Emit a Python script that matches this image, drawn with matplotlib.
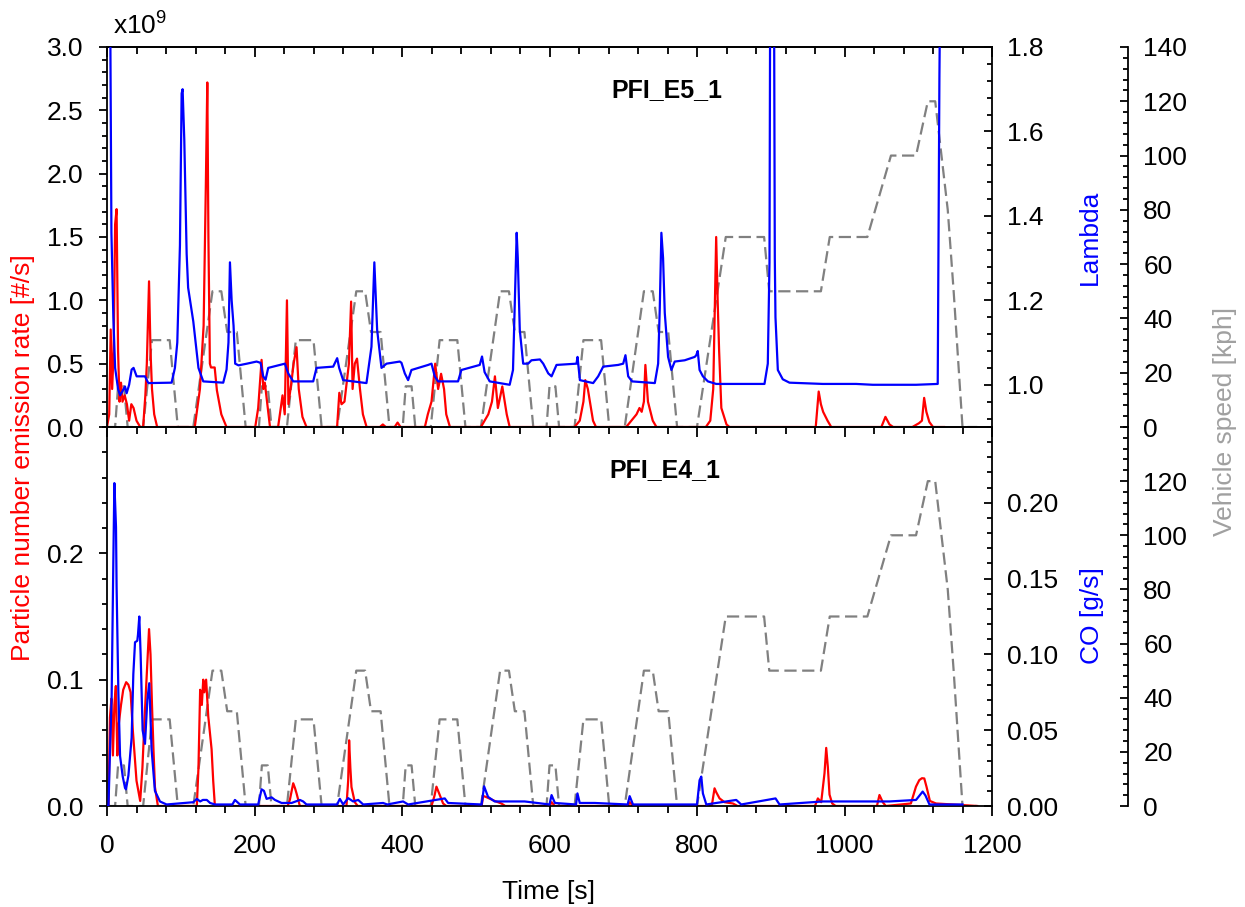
import matplotlib
matplotlib.use("Agg")
import matplotlib.pyplot as plt
from matplotlib.ticker import MultipleLocator

plt.rcParams['font.family'] = ['Liberation Sans', 'DejaVu Sans']
plt.rcParams['mathtext.default'] = 'regular'
plt.rcParams['font.size'] = 19

# NEDC vehicle speed trace (time [s], speed [kph]) - same cycle in both panels
speed_t = [0, 11, 15, 23, 28, 49, 61, 85, 96, 117, 143, 155, 163, 176, 188,
           206, 210, 218, 223, 244, 256, 280, 291, 312, 338, 350, 358, 371, 383,
           401, 405, 413, 418, 439, 451, 475, 486, 507, 533, 545, 553, 566, 578,
           596, 600, 608, 613, 634, 646, 670, 681, 702, 728, 740, 748, 761, 773,
           800, 839, 891, 898, 968, 980, 1031, 1063, 1097, 1113, 1123, 1140, 1148, 1160, 1180]
speed_v = [0, 0, 15, 15, 0, 0, 32, 32, 0, 0, 50, 50, 35, 35, 0,
           0, 15, 15, 0, 0, 32, 32, 0, 0, 50, 50, 35, 35, 0,
           0, 15, 15, 0, 0, 32, 32, 0, 0, 50, 50, 35, 35, 0,
           0, 15, 15, 0, 0, 32, 32, 0, 0, 50, 50, 35, 35, 0,
           0, 70, 70, 50, 50, 70, 70, 100, 100, 120, 120, 80, 50, 0, 0]

# PFI_E5_1: particle number rate (x1e9 #/s)
pn_e5_t = [0, 3, 5, 7, 9, 11, 13, 15, 17, 19, 21, 24, 27, 30, 33, 36, 40, 45,
           49, 52, 54, 57, 59, 61, 64, 68,
           119, 126, 131, 134, 136, 137.5, 139.5, 141, 146, 149, 155, 162,
           201, 205, 209.6, 212, 214, 221,
           232, 234.4, 238, 241, 244, 246, 250, 253, 257, 260, 265, 270.5,
           312, 315, 318, 322, 325, 328, 331, 333, 336, 339, 343, 347, 352,
           370, 374, 378, 390, 394, 398,
           431, 435, 440, 445, 449, 453, 457, 460, 465,
           507, 517, 522, 526, 530, 536, 542, 546,
           634, 641, 646, 648.5, 652, 659, 663,
           704, 711, 718, 722, 725, 728, 730, 733.5, 740, 745,
           812, 818, 822, 824, 826, 828, 830, 833, 840, 844,
           961, 965, 968, 971, 977, 982,
           1050, 1055.5, 1061, 1066,
           1092, 1101, 1105, 1108, 1111, 1115, 1120, 1135]
pn_e5_v = [0, 0.1, 0.77, 0.3, 0.6, 1.6, 1.72, 0.6, 0.2, 0.35, 0.2, 0.25, 0.18, 0.05, 0.18, 0.15, 0.05, 0.0,
           0.0, 0.25, 0.5, 1.15, 0.6, 0.3, 0.1, 0.0,
           0.0, 0.3, 0.8, 1.9, 2.72, 1.5, 0.5, 0.47, 0.47, 0.29, 0.1, 0.0,
           0.0, 0.15, 0.53, 0.3, 0.35, 0.0,
           0.0, 0.1, 0.25, 0.1, 1.0, 0.18, 0.35, 0.5, 0.63, 0.3, 0.08, 0.0,
           0.0, 0.27, 0.18, 0.2, 0.35, 0.5, 0.99, 0.3, 0.5, 0.54, 0.3, 0.1, 0.0,
           0.0, 0.02, 0.0, 0.0, 0.035, 0.0,
           0.0, 0.1, 0.2, 0.5, 0.3, 0.42, 0.3, 0.1, 0.0,
           0.0, 0.1, 0.2, 0.4, 0.15, 0.32, 0.1, 0.0,
           0.0, 0.05, 0.2, 0.37, 0.3, 0.05, 0.0,
           0.0, 0.05, 0.1, 0.15, 0.12, 0.2, 0.49, 0.2, 0.05, 0.0,
           0.0, 0.05, 0.3, 0.9, 1.5, 1.0, 0.6, 0.15, 0.02, 0.0,
           0.0, 0.28, 0.18, 0.12, 0.05, 0.0,
           0.0, 0.08, 0.02, 0.0,
           0.0, 0.03, 0.05, 0.23, 0.12, 0.04, 0.0, 0.0]

# PFI_E5_1: lambda
lam_t = [0, 4, 6, 8.6, 11, 15, 17.7, 21, 24.4, 26.6, 30, 33.4, 36, 40.2, 51.5, 56,
         87.6, 92.1, 95.3, 98.9, 101.2, 102.5, 104.8, 108, 110, 112.6, 117, 124, 130.5,
         157.6, 162.1, 164.7, 166.7, 169, 171.6, 173.8, 178.4, 189.7, 202.8, 208.2,
         211.8, 215, 218.6, 241.2, 245.7, 252.5, 279.6, 284.1, 306.7, 312.1, 314.8,
         320.2, 351.8, 358.6, 362.5, 366.3, 372.2, 379, 397, 399.3, 403.8, 408.3,
         412.8, 435.4, 440, 444.4, 449, 476, 480.5, 505.4, 508.5, 512, 518.9, 546,
         550.5, 553.7, 555.5, 557, 559.7, 564.3, 571, 575.5, 587, 591.5, 598.3, 602.8,
         609.5, 636.6, 638, 641.2, 659.2, 666, 672.8, 693.1, 699.9, 703, 706.7, 712,
         742.8, 747.3, 749.5, 751.7, 754, 756.3, 760.8, 765.3, 769.8, 783.3, 796.9,
         799, 801, 803.5, 808, 814.8, 826, 891.5, 896, 898.3, 899.6, 904, 905.5,
         906.4, 909.6, 916.3, 925.4, 970.5, 1015.7, 1038.3, 1097, 1126.4, 1128.7,
         1131, 1135]
lam_v = [2.5, 2.0, 1.36, 1.16, 1.04, 0.99, 0.975, 0.985, 0.996, 0.98, 1.0, 1.036, 1.04, 1.02, 1.02, 1.004,
         1.005, 1.04, 1.1, 1.33, 1.69, 1.70, 1.58, 1.31, 1.23, 1.2, 1.15, 1.04, 1.008,
         1.005, 1.036, 1.1, 1.29, 1.2, 1.14, 1.05, 1.046, 1.05, 1.055, 1.052,
         1.02, 1.012, 1.04, 1.05, 1.027, 1.008, 1.008, 1.04, 1.043, 1.063, 1.04,
         1.011, 1.004, 1.09, 1.29, 1.13, 1.04, 1.05, 1.055, 1.052, 1.027, 1.011,
         1.035, 1.047, 1.05, 1.02, 1.008, 1.008, 1.035, 1.047, 1.067, 1.03, 1.008, 1.0,
         1.035, 1.248, 1.36, 1.3, 1.13, 1.05, 1.05, 1.058, 1.06, 1.05, 1.027, 1.02,
         1.047, 1.05, 1.066, 1.011, 1.004, 1.02, 1.043, 1.047, 1.05, 1.07, 1.02, 1.008,
         1.004, 1.05, 1.18, 1.36, 1.3, 1.17, 1.066, 1.035, 1.055, 1.058, 1.066,
         1.07, 1.08, 1.035, 1.02, 1.008, 1.002, 1.002, 1.05, 1.29, 2.2, 2.2, 1.3,
         1.16, 1.035, 1.013, 1.005, 1.002, 1.002, 1.0, 1.0, 1.002, 1.73,
         2.2, 2.5]

# PFI_E4_1: particle number rate (x1e9 #/s)
pn_e4_t = [0, 2, 4, 6, 8, 10, 12, 14, 16, 19, 22, 26, 29, 32, 35, 40, 45, 48, 51, 54, 57, 59, 61, 63, 65, 69,
           121.8, 124, 126.3, 128.6, 130.5, 132, 134.4, 137.3, 141.8, 144, 146.3,
           245, 248, 252.5, 255, 257, 261.5,
           324.7, 327, 328.3, 330, 331.5, 336, 340,
           440, 444, 446.7, 451, 455.7, 460,
           508, 510, 514.5, 525.7, 534.7, 540,
           600, 603, 607,
           706, 709, 713,
           820, 823.8, 826, 830.6, 837.4, 848.7, 855,
           960, 963.9, 968.4, 972.9, 975.2, 977.4, 979.7, 983.3, 988,
           1044, 1047.4, 1051.9, 1056,
           1090, 1096.9, 1101.4, 1105, 1108.2, 1111.3, 1115.8, 1124, 1180]
pn_e4_v = [0, 0.0, 0.07, 0.085, 0.04, 0.08, 0.095, 0.04, 0.065, 0.08, 0.092, 0.098, 0.096, 0.09, 0.06, 0.02,
           0.004, 0.03, 0.07, 0.105, 0.14, 0.12, 0.08, 0.045, 0.015, 0.0,
           0.0, 0.03, 0.092, 0.08, 0.1, 0.09, 0.1, 0.071, 0.045, 0.02, 0.0,
           0.0, 0.005, 0.018, 0.014, 0.01, 0.0,
           0.0, 0.02, 0.052, 0.03, 0.015, 0.003, 0.0,
           0.0, 0.008, 0.0153, 0.009, 0.002, 0.0,
           0.0, 0.008, 0.007, 0.004, 0.002, 0.0,
           0.0, 0.003, 0.0,
           0.0, 0.003, 0.0,
           0.0, 0.014, 0.011, 0.006, 0.003, 0.002, 0.0,
           0.0, 0.006, 0.003, 0.026, 0.046, 0.031, 0.009, 0.002, 0.0,
           0.0, 0.0087, 0.003, 0.0,
           0.002, 0.0153, 0.0205, 0.022, 0.0218, 0.015, 0.004, 0.002, 0.0]

# PFI_E4_1: CO [g/s]
co_t = [0, 2, 4, 6.3, 8.6, 10, 11, 12.2, 13, 15.4, 17.7, 21.3, 24.4, 25.7, 29, 33.4, 35.7, 38,
        41.1, 42, 43.8, 45.6, 48.3, 51.5, 54.7, 57.3, 60.5, 65, 71.8, 80.8, 117, 121.8, 126.3,
        130, 135.3, 139.8, 146.3, 170, 173.5, 180.2, 205, 209.6, 212.8, 216.4, 223.2, 227.7,
        236.7, 250.3, 261.5, 266, 270.5, 312, 315.7, 320.2, 327, 333.8, 340.6, 347.4, 374.4,
        380, 401.5, 408.3, 458, 462.5, 508, 511.3, 516.7, 525.7, 566.3, 600, 602.8, 607.3,
        636, 637.9, 641, 661.3, 706, 708.7, 713.2, 800, 803.5, 805.8, 808, 812.6, 853.2, 860,
        906.5, 911.9, 970.7, 1029.4, 1061, 1097, 1106, 1109.7, 1115.2, 1160]
co_v = [0.0, 0.0, 0.035, 0.072, 0.162, 0.213, 0.2, 0.184, 0.145, 0.075, 0.033, 0.0195, 0.012, 0.011, 0.02,
        0.045, 0.087, 0.108, 0.109, 0.113, 0.125, 0.1, 0.05, 0.041, 0.07, 0.081, 0.037, 0.01, 0.003,
        0.001, 0.0025, 0.0047, 0.003, 0.004, 0.004, 0.002, 0.001, 0.001, 0.004, 0.001, 0.001, 0.011,
        0.01, 0.0047, 0.0057, 0.004, 0.002, 0.002, 0.004, 0.003, 0.001, 0.001, 0.0047, 0.001, 0.0052,
        0.003, 0.004, 0.001, 0.002, 0.001, 0.003, 0.001, 0.005, 0.002, 0.001, 0.013, 0.006, 0.003,
        0.003, 0.001, 0.0072, 0.002, 0.001, 0.0083, 0.002, 0.002, 0.001, 0.0065, 0.001, 0.001, 0.017,
        0.0194, 0.0083, 0.001, 0.004, 0.001, 0.005, 0.001, 0.003, 0.003, 0.003, 0.004, 0.0095, 0.007,
        0.001, 0.001]

RED = '#ff0000'
BLUE = '#0000ff'
GRAY = '#808080'
W, H = 1245, 907
X0, X1 = 107, 992
Y_TOP, Y_MID, Y_BOT = 47, 427, 806
SPEED_POS = (1128 - X0) / (X1 - X0)


def make_panel(fig, y_top, y_bot):
    ax = fig.add_axes([X0 / W, 1 - y_bot / H, (X1 - X0) / W, (y_bot - y_top) / H])
    axr = ax.twinx()
    axs = ax.twinx()
    axs.spines['right'].set_position(('axes', SPEED_POS))
    for a in (axr, axs):
        for s in ('left', 'top', 'bottom'):
            a.spines[s].set_visible(False)
    ax.spines['right'].set_visible(False)
    axs.set_zorder(1)
    ax.set_zorder(2)
    axr.set_zorder(3)
    for a in (ax, axr, axs):
        a.patch.set_visible(False)
        for s in a.spines.values():
            s.set_linewidth(1.3)
    ax.set_xlim(0, 1200)
    ax.xaxis.set_major_locator(MultipleLocator(200))
    ax.xaxis.set_minor_locator(MultipleLocator(40))
    ax.tick_params(axis='x', which='both', direction='out', top=False, bottom=True, width=1.3, pad=13)
    ax.tick_params(axis='x', which='major', length=7)
    ax.tick_params(axis='x', which='minor', length=5)
    ax.tick_params(axis='y', which='both', direction='out', left=True, right=False, width=1.3, pad=11)
    ax.tick_params(axis='y', which='major', length=6)
    ax.tick_params(axis='y', which='minor', length=3.5)
    for a in (axr, axs):
        a.tick_params(axis='y', which='both', direction='in', width=1.3, pad=11)
        a.tick_params(axis='y', which='major', length=6)
        a.tick_params(axis='y', which='minor', length=3.5)
    axs.set_ylim(0, 140)
    axs.yaxis.set_minor_locator(MultipleLocator(4))
    axs.plot(speed_t, speed_v, color=GRAY, lw=1.6, dashes=(5.5, 2.5))
    return ax, axr, axs


fig = plt.figure(figsize=(W / 100, H / 100), dpi=100)

# top panel: PFI_E5_1
ax1, ax1r, ax1s = make_panel(fig, Y_TOP, Y_MID)
ax1.tick_params(axis='x', labelbottom=False)
top = ax1.secondary_xaxis('top')
top.xaxis.set_major_locator(MultipleLocator(200))
top.xaxis.set_minor_locator(MultipleLocator(40))
top.tick_params(axis='x', which='both', direction='in', labeltop=False, width=1.3)
top.tick_params(axis='x', which='major', length=7)
top.tick_params(axis='x', which='minor', length=5)
top.spines['top'].set_linewidth(1.3)

ax1.plot(pn_e5_t, pn_e5_v, color=RED, lw=1.6)
ax1.set_ylim(0, 3.0)
ax1.set_yticks([0.0, 0.5, 1.0, 1.5, 2.0, 2.5, 3.0])
ax1.set_yticklabels(['0.0', '0.5', '1.0', '1.5', '2.0', '2.5', '3.0'])
ax1.yaxis.set_minor_locator(MultipleLocator(0.1))
ax1.text(0.007, 1.032, r'x10$^{9}$', transform=ax1.transAxes, ha='left', va='baseline')
ax1.text(759, 2.66, 'PFI_E5_1', ha='center', va='center', fontweight='bold', fontsize=18)

ax1r.plot(lam_t, lam_v, color=BLUE, lw=1.6)
ax1r.set_ylim(0.9, 1.8)
ax1r.set_yticks([1.0, 1.2, 1.4, 1.6, 1.8])
ax1r.set_yticklabels(['1.0', '1.2', '1.4', '1.6', '1.8'])
ax1r.yaxis.set_minor_locator(MultipleLocator(0.04))

ax1s.set_yticks([0, 20, 40, 60, 80, 100, 120, 140])

# bottom panel: PFI_E4_1
ax2, ax2r, ax2s = make_panel(fig, Y_MID, Y_BOT)
ax2.plot(pn_e4_t, pn_e4_v, color=RED, lw=1.6)
ax2.set_ylim(0, 0.3)
ax2.set_yticks([0.0, 0.1, 0.2])
ax2.set_yticklabels(['0.0', '0.1', '0.2'])
ax2.yaxis.set_minor_locator(MultipleLocator(0.02))
ax2.text(757, 0.266, 'PFI_E4_1', ha='center', va='center', fontweight='bold', fontsize=18)

ax2r.plot(co_t, co_v, color=BLUE, lw=1.6)
ax2r.set_ylim(0, 0.25)
ax2r.set_yticks([0.0, 0.05, 0.10, 0.15, 0.20])
ax2r.set_yticklabels(['0.00', '0.05', '0.10', '0.15', '0.20'])
ax2r.yaxis.set_minor_locator(MultipleLocator(0.01))

ax2s.set_yticks([0, 20, 40, 60, 80, 100, 120])

# axis titles
fig.text(23 / W, 1 - 458 / H, 'Particle number emission rate [#/s]', color=RED,
         rotation=90, ha='center', va='center')
fig.text(1090 / W, 1 - 237 / H, 'Lambda', color=BLUE, rotation=90, ha='center', va='center')
fig.text(1092 / W, 1 - 616 / H, 'CO [g/s]', color=BLUE, rotation=90, ha='center', va='center')
fig.text(1225 / W, 1 - 421 / H, 'Vehicle speed [kph]', color='#a0a0a0', rotation=90,
         ha='center', va='center')
fig.text(548 / W, 1 - 892 / H, 'Time [s]', ha='center', va='center')

fig.savefig('out.png', dpi=100)
